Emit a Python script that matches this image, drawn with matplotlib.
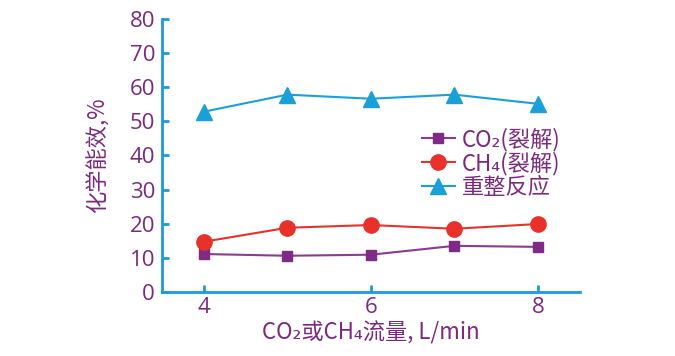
import matplotlib
matplotlib.use("Agg")
import matplotlib.pyplot as plt

plt.rcParams['font.family'] = ['Noto Sans CJK SC', 'DejaVu Sans']

flow = [4, 5, 6, 7, 8]
co2_crack = [11.1, 10.6, 10.9, 13.5, 13.2]
ch4_crack = [14.7, 18.8, 19.6, 18.5, 19.9]
reforming = [52.8, 57.8, 56.6, 57.8, 55.1]
xticks = [4, 6, 8]
yticks = [0, 10, 20, 30, 40, 50, 60, 70, 80]
labels = ["CO₂(裂解)", "CH₄(裂解)", "重整反应"]

text_c = '#7B2A7F'
axis_c = '#1E9BD7'

fig = plt.figure(figsize=(6.75, 3.56), dpi=100)
ax = fig.add_axes([0.24, 0.18, 0.619, 0.767])

ax.plot(flow, co2_crack, color='#8E3A92', marker='s', markersize=7, lw=1.5,
        markerfacecolor='#7F2A86', markeredgecolor='#7F2A86', label=labels[0])
ax.plot(flow, ch4_crack, color='#E8312A', marker='o', markersize=11, lw=1.5,
        label=labels[1])
ax.plot(flow, reforming, color='#1AA0D8', marker='^', markersize=11, lw=1.5,
        label=labels[2])

ax.set_xlim(3.5, 8.5)
ax.set_ylim(0, 80)
ax.set_xticks(xticks)
ax.set_yticks(yticks)
for s in ['top', 'right']:
    ax.spines[s].set_visible(False)
for s in ['left', 'bottom']:
    ax.spines[s].set_color(axis_c)
    ax.spines[s].set_linewidth(2)
ax.tick_params(direction='in', colors=axis_c, width=2, length=5,
               labelcolor=text_c, labelsize=16)
ax.tick_params(axis='y', pad=5)
ax.tick_params(axis='x', pad=4)
for lab in ax.get_xticklabels() + ax.get_yticklabels():
    lab.set_family(['Open Sans', 'DejaVu Sans'])

ax.set_xlabel("CO₂或CH₄流量, L/min", color=text_c, fontsize=16, labelpad=2)
ax.set_ylabel("化学能效,%", color=text_c, fontsize=16, labelpad=14)

leg = ax.legend(loc='upper left', bbox_to_anchor=(0.6, 0.635), frameon=False,
                fontsize=16, handlelength=1.5, handletextpad=0.3,
                labelspacing=0.02, borderaxespad=0)
for t in leg.get_texts():
    t.set_color(text_c)

fig.savefig('out.png', dpi=100)
